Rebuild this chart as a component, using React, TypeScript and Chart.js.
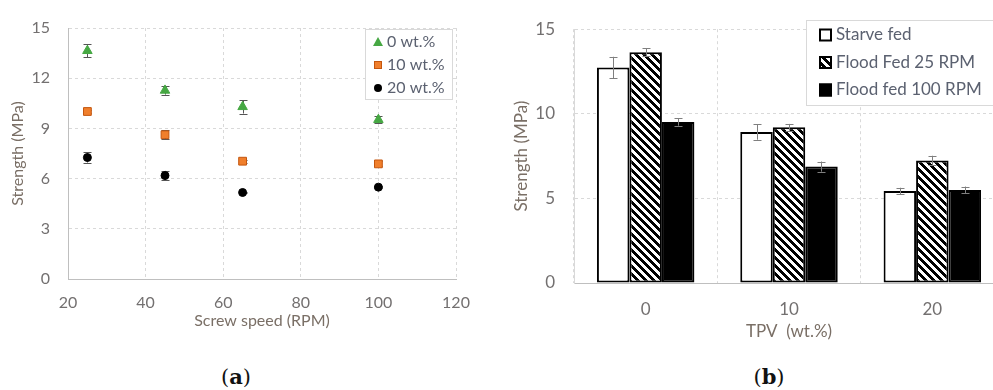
import React, { useEffect, useRef } from 'react';
import { Chart, registerables } from 'chart.js';

Chart.register(...registerables);

// ---------- Data: chart (a) ----------
const screwSpeeds = [25, 45, 65, 100];
const wt0 = [13.64, 11.27, 10.29, 9.52];
const wt0Err = [0.38, 0.25, 0.4, 0.2];
const wt10 = [10.01, 8.62, 7.04, 6.88];
const wt10Err = [0.08, 0.28, 0.1, 0.15];
const wt20 = [7.26, 6.18, 5.17, 5.49];
const wt20Err = [0.3, 0.28, 0.05, 0.05];
const seriesLabelsA = ['0 wt.%', '10 wt.%', '20 wt.%'];

// ---------- Data: chart (b) ----------
const tpvLabels = ['0', '10', '20'];
const starveFed = [12.73, 8.93, 5.44];
const starveFedErr = [0.64, 0.46, 0.19];
const flood25 = [13.64, 9.2, 7.24];
const flood25Err = [0.22, 0.2, 0.28];
const flood100 = [9.52, 6.88, 5.5];
const flood100Err = [0.22, 0.3, 0.2];
const seriesLabelsB = ['Starve fed', 'Flood Fed 25 RPM', 'Flood fed 100 RPM'];

const FONT = 'Lato, "Open Sans", sans-serif';
const TICK_COLOR = '#737070';
const TITLE_COLOR = '#7a6f66';
const LEGEND_COLOR = '#5b6170';
const GRID_COLOR = '#d9d9d9';
const AXIS_COLOR = '#bfbfbf';

const errorBarPlugin = {
  id: 'errorBars',
  _draw(chart: any, opts: any) {
    const { ctx } = chart;
    const yScale = chart.scales.y;
    (opts.errors || []).forEach((errs: number[], di: number) => {
      const meta = chart.getDatasetMeta(di);
      const ds = chart.data.datasets[di];
      meta.data.forEach((el: any, i: number) => {
        const raw = ds.data[i];
        const v = typeof raw === 'number' ? raw : raw.y;
        const e = errs[i];
        const yTop = yScale.getPixelForValue(v + e);
        const yBot = yScale.getPixelForValue(v - e);
        const x = Math.round(el.x) + 0.5;
        const c = opts.cap;
        ctx.save();
        ctx.strokeStyle = opts.color;
        ctx.lineWidth = opts.width;
        ctx.beginPath();
        ctx.moveTo(x, yTop);
        ctx.lineTo(x, yBot);
        ctx.moveTo(x - c, Math.round(yTop) + 0.5);
        ctx.lineTo(x + c, Math.round(yTop) + 0.5);
        ctx.moveTo(x - c, Math.round(yBot) + 0.5);
        ctx.lineTo(x + c, Math.round(yBot) + 0.5);
        ctx.stroke();
        ctx.restore();
      });
    });
  },
  beforeDatasetsDraw(chart: any, _args: any, opts: any) {
    if (opts.before) (errorBarPlugin as any)._draw(chart, opts);
  },
  afterDatasetsDraw(chart: any, _args: any, opts: any) {
    if (!opts.before) (errorBarPlugin as any)._draw(chart, opts);
  },
};

const boxLegendPlugin = {
  id: 'boxLegend',
  afterDraw(chart: any, _args: any, opts: any) {
    const { ctx } = chart;
    ctx.save();
    ctx.fillStyle = '#ffffff';
    ctx.fillRect(opts.x, opts.y, opts.w, opts.h);
    ctx.strokeStyle = opts.borderColor;
    ctx.lineWidth = 1;
    ctx.strokeRect(opts.x + 0.5, opts.y + 0.5, opts.w, opts.h);
    chart.data.datasets.forEach((ds: any, i: number) => {
      const cy = opts.firstRow + i * opts.rowGap;
      const mx = opts.markerX;
      if (opts.kind === 'points') {
        ctx.fillStyle = ds.backgroundColor;
        ctx.strokeStyle = ds.borderColor;
        ctx.lineWidth = 1;
        if (ds.pointStyle === 'triangle') {
          ctx.beginPath();
          ctx.moveTo(mx, cy - 5);
          ctx.lineTo(mx + 5, cy + 4);
          ctx.lineTo(mx - 5, cy + 4);
          ctx.closePath();
          ctx.fill();
        } else if (ds.pointStyle === 'rect') {
          ctx.fillRect(mx - 4, cy - 4, 8, 8);
          ctx.strokeRect(mx - 3.5, cy - 3.5, 7, 7);
        } else {
          ctx.beginPath();
          ctx.arc(mx, cy, 4, 0, Math.PI * 2);
          ctx.fill();
        }
      } else {
        const s = opts.markerSize;
        ctx.fillStyle = ds.backgroundColor;
        ctx.fillRect(mx, cy - s / 2, s, s);
        ctx.strokeStyle = '#000';
        ctx.lineWidth = 2;
        ctx.strokeRect(mx + 1, cy - s / 2 + 1, s - 2, s - 2);
      }
      ctx.fillStyle = opts.color;
      ctx.font = opts.font;
      ctx.textBaseline = 'middle';
      ctx.textAlign = 'left';
      ctx.fillText(ds.label, opts.textX, cy);
    });
    ctx.restore();
  },
};

function makeHatch(): CanvasPattern | string {
  const c = document.createElement('canvas');
  c.width = 8;
  c.height = 8;
  const g = c.getContext('2d');
  if (!g) return '#888';
  const img = g.createImageData(8, 8);
  for (let y = 0; y < 8; y++) {
    for (let x = 0; x < 8; x++) {
      const k = (((x - y) % 8) + 8) % 8;
      const black = k < 4;
      const idx = (y * 8 + x) * 4;
      const v = black ? 0 : 255;
      img.data[idx] = v;
      img.data[idx + 1] = v;
      img.data[idx + 2] = v;
      img.data[idx + 3] = 255;
    }
  }
  g.putImageData(img, 0, 0);
  const main = document.createElement('canvas').getContext('2d');
  const p = main ? main.createPattern(c, 'repeat') : null;
  return p || '#888';
}

function ScatterChart() {
  const ref = useRef<HTMLCanvasElement>(null);
  useEffect(() => {
    if (!ref.current) return;
    const toPts = (ys: number[]) => screwSpeeds.map((x, i) => ({ x, y: ys[i] }));
    const chart = new Chart(ref.current, {
      type: 'scatter',
      data: {
        datasets: [
          {
            label: seriesLabelsA[0],
            data: toPts(wt0),
            pointStyle: 'triangle',
            pointRadius: 5.5,
            backgroundColor: '#46a843',
            borderColor: '#46a843',
            borderWidth: 1,
          },
          {
            label: seriesLabelsA[1],
            data: toPts(wt10),
            pointStyle: 'rect',
            pointRadius: 5.5,
            backgroundColor: '#f07f2c',
            borderColor: '#c4560e',
            borderWidth: 1,
          },
          {
            label: seriesLabelsA[2],
            data: toPts(wt20),
            pointStyle: 'circle',
            pointRadius: 4,
            backgroundColor: '#000000',
            borderColor: '#000000',
            borderWidth: 1,
          },
        ] as any,
      },
      options: {
        responsive: false,
        animation: false,
        layout: { padding: { left: 0, right: 39, top: 28, bottom: 0 } },
        scales: {
          x: {
            type: 'linear',
            min: 20,
            max: 120,
            ticks: { stepSize: 20, color: TICK_COLOR, font: { family: FONT, size: 16 }, padding: 14 },
            grid: { color: GRID_COLOR, drawTicks: false },
            border: { color: AXIS_COLOR, dash: [3, 3], width: 1 },
            title: {
              display: true,
              text: 'Screw speed (RPM)',
              color: TITLE_COLOR,
              font: { family: FONT, size: 16 },
              padding: { top: 0, bottom: 15 },
            },
            afterFit: (s: any) => { s.height = 66; },
          },
          y: {
            type: 'linear',
            min: 0,
            max: 15,
            ticks: { stepSize: 3, color: TICK_COLOR, font: { family: FONT, size: 16 }, padding: 18 },
            grid: { color: GRID_COLOR, drawTicks: false },
            border: { color: AXIS_COLOR, dash: [3, 3], width: 1 },
            title: {
              display: true,
              text: 'Strength (MPa)',
              color: TITLE_COLOR,
              font: { family: FONT, size: 16 },
              padding: { top: 8, bottom: 0 },
            },
            afterFit: (s: any) => { s.width = 68; },
          },
        },
        plugins: {
          legend: { display: false },
          tooltip: { enabled: false },
          errorBars: {
            errors: [wt0Err, wt10Err, wt20Err],
            color: '#555555',
            width: 1,
            cap: 4,
            before: true,
          },
          boxLegend: {
            kind: 'points',
            x: 365,
            y: 29,
            w: 87,
            h: 70,
            borderColor: '#d9d9d9',
            firstRow: 42,
            rowGap: 23,
            markerX: 378,
            textX: 387,
            font: `16px ${FONT}`,
            color: LEGEND_COLOR,
          },
        } as any,
      },
      plugins: [errorBarPlugin as any, boxLegendPlugin as any],
    });
    return () => chart.destroy();
  }, []);
  return <canvas ref={ref} width={495} height={345} style={{ position: 'absolute', left: 0, top: 0 }} />;
}

function BarChart() {
  const ref = useRef<HTMLCanvasElement>(null);
  useEffect(() => {
    if (!ref.current) return;
    const hatch = makeHatch();
    const chart = new Chart(ref.current, {
      type: 'bar',
      data: {
        labels: tpvLabels,
        datasets: [
          { label: seriesLabelsB[0], data: starveFed, backgroundColor: '#ffffff' },
          { label: seriesLabelsB[1], data: flood25, backgroundColor: hatch },
          { label: seriesLabelsB[2], data: flood100, backgroundColor: '#000000' },
        ] as any,
      },
      options: {
        responsive: false,
        animation: false,
        layout: { padding: { left: 0, right: 16, top: 19, bottom: 0 } },
        datasets: {
          bar: {
            categoryPercentage: 0.68,
            barPercentage: 1,
            borderColor: '#000000',
            borderWidth: 2,
            borderSkipped: false,
          },
        } as any,
        scales: {
          x: {
            ticks: { color: TICK_COLOR, font: { family: FONT, size: 17 }, padding: 16 },
            grid: { color: GRID_COLOR, drawTicks: false, offset: true },
            border: { color: AXIS_COLOR, dash: [3, 3], width: 1 },
            title: {
              display: true,
              text: 'TPV  (wt.%)',
              color: TITLE_COLOR,
              font: { family: FONT, size: 17 },
              padding: { top: 0, bottom: 3 },
            },
            afterFit: (s: any) => { s.height = 62; },
          },
          y: {
            min: 0,
            max: 15,
            ticks: { stepSize: 5, color: TICK_COLOR, font: { family: FONT, size: 17 }, padding: 19 },
            grid: { color: GRID_COLOR, drawTicks: false },
            border: { color: '#d9d9d9', dash: [3, 3], width: 1 },
            title: {
              display: true,
              text: 'Strength (MPa)',
              color: TITLE_COLOR,
              font: { family: FONT, size: 17 },
              padding: { top: 11, bottom: 0 },
            },
            afterFit: (s: any) => { s.width = 74; },
          },
        },
        plugins: {
          legend: { display: false },
          tooltip: { enabled: false },
          errorBars: {
            errors: [starveFedErr, flood25Err, flood100Err],
            color: '#7f7f7f',
            width: 1,
            cap: 4,
            before: false,
          },
          boxLegend: {
            kind: 'bars',
            x: 306,
            y: 20,
            w: 200,
            h: 85,
            borderColor: '#d9d9d9',
            firstRow: 35,
            rowGap: 27.5,
            markerX: 319,
            markerSize: 13,
            textX: 336,
            font: `17px ${FONT}`,
            color: LEGEND_COLOR,
          },
        } as any,
      },
      plugins: [errorBarPlugin as any, boxLegendPlugin as any],
    });
    return () => chart.destroy();
  }, []);
  return <canvas ref={ref} width={520} height={345} style={{ position: 'absolute', left: 500, top: 0 }} />;
}

export default function App() {
  const cap: React.CSSProperties = {
    position: 'absolute',
    top: 364,
    width: 80,
    textAlign: 'center',
    fontFamily: '"DejaVu Serif", "Liberation Serif", serif',
    fontSize: 21,
    color: '#111',
    lineHeight: '26px',
  };
  return (
    <div
      style={{
        position: 'fixed',
        left: 0,
        top: 0,
        width: 993,
        height: 390,
        overflow: 'hidden',
        background: '#ffffff',
      }}
    >
      <ScatterChart />
      <BarChart />
      <div style={{ ...cap, left: 236 - 40 }}>
        (<b>a</b>)
      </div>
      <div style={{ ...cap, left: 769 - 40 }}>
        (<b>b</b>)
      </div>
    </div>
  );
}
